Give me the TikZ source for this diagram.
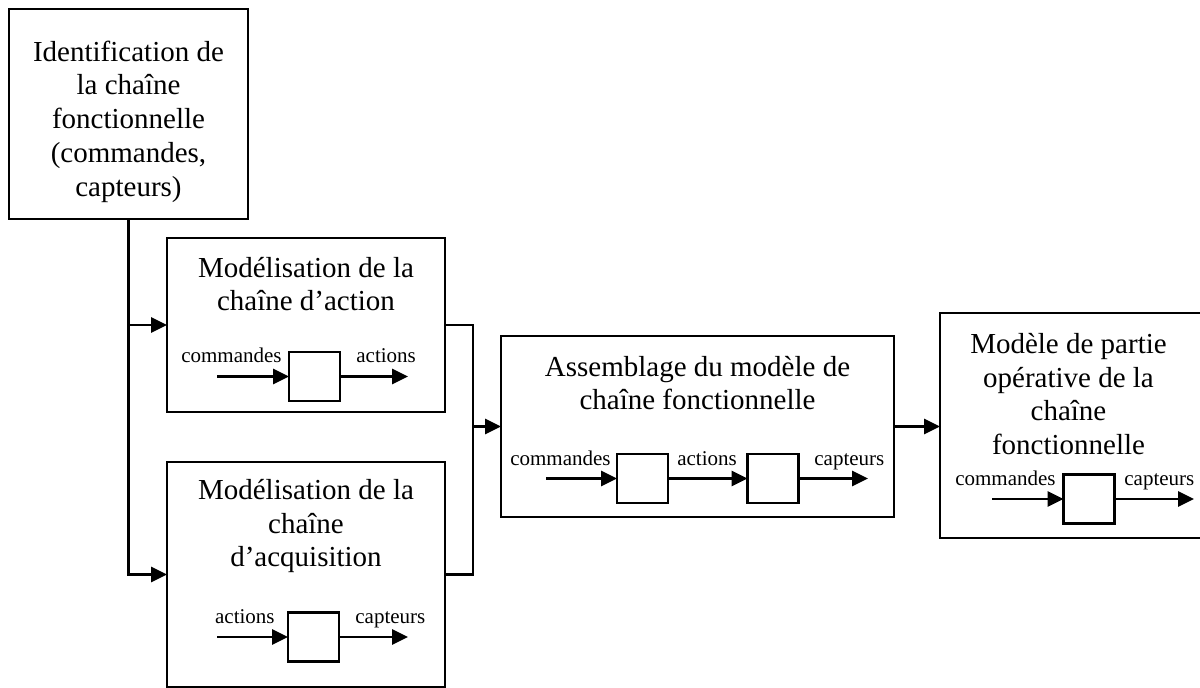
\documentclass[tikz,border=0pt]{standalone}
\usepackage{fontspec}
\setmainfont{Liberation Serif}
\usetikzlibrary{arrows.meta}
\begin{document}
\begin{tikzpicture}[x=1pt,y=-1pt,
  line width=2.8pt,
  box/.style={draw, rectangle, inner sep=0pt, outer sep=0pt},
  blk/.style={draw, rectangle, inner sep=0pt, outer sep=0pt, minimum width=51pt, minimum height=49pt},
  title/.style={align=center, inner sep=0pt, font=\fontsize{29}{33.5}\selectfont},
  lbl/.style={inner sep=0pt, font=\fontsize{21}{24}\selectfont},
  conn/.style={-{Triangle[length=16pt,width=15pt]}}
]
\useasboundingbox (0,0) rectangle (1200,688);

% main boxes
\node[box, minimum width=239pt, minimum height=210pt] (b1) at (128.5,114) {};
\node[box, minimum width=278pt, minimum height=174pt] (b2) at (306,325) {};
\node[box, minimum width=278pt, minimum height=225pt] (b3) at (306,574.5) {};
\node[box, minimum width=393pt, minimum height=181pt] (b4) at (697.5,426.5) {};
\node[box, minimum width=261pt, minimum height=225pt] (b5) at (1070.5,425.5) {};

% titles
\node[title, font=\fontsize{29}{33.8}\selectfont] (t1) at (128.5,121.5) {Identification de\\la chaîne\\fonctionnelle\\(commandes,\\capteurs)};
\node[title] (t2) at (306,284) {Modélisation de la\\chaîne d’action};
\node[title] (t3) at (306,526.3) {Modélisation de la\\chaîne\\d’acquisition};
\node[title] (t4) at (697.5,383.3) {Assemblage du modèle de\\chaîne fonctionnelle};
\node[title] (t5) at (1068.5,394.3) {Modèle de partie\\opérative de la\\chaîne\\fonctionnelle};

% inner blocks
\node[blk] (i2) at (314.5,376.5) {};
\node[blk] (i3) at (313.5,637) {};
\node[blk] (i4a) at (642.5,478.5) {};
\node[blk] (i4b) at (773,478.5) {};
\node[blk] (i5) at (1089,499) {};

% free ends of inner arrows
\coordinate (s2) at (217,376.5);
\coordinate (e2) at (408,376.5);
\coordinate (s3) at (217,637);
\coordinate (e3) at (408,637);
\coordinate (s4) at (546,478.5);
\coordinate (e4) at (868,478.5);
\coordinate (s5) at (992,499);
\coordinate (e5) at (1194,499);

\draw[conn] (s2) -- (i2.west);
\draw[conn] (i2.east) -- (e2);
\draw[conn] (s3) -- (i3.west);
\draw[conn] (i3.east) -- (e3);
\draw[conn] (s4) -- (i4a.west);
\draw[conn] (i4a.east) -- (i4b.west);
\draw[conn] (i4b.east) -- (e4);
\draw[conn] (s5) -- (i5.west);
\draw[conn] (i5.east) -- (e5);

% labels
\node[lbl, anchor=base east] (l2a) at (283,362) {commandes};
\node[lbl, anchor=base west] (l2b) at (355,362) {actions};
\node[lbl, anchor=base east] (l3a) at (276,623) {actions};
\node[lbl, anchor=base west] (l3b) at (354,623) {capteurs};
\node[lbl, anchor=base east] (l4a) at (612,465) {commandes};
\node[lbl, anchor=base] (l4b) at (707,465) {actions};
\node[lbl, anchor=base west] (l4c) at (813,465) {capteurs};
\node[lbl, anchor=base east] (l5a) at (1057,485) {commandes};
\node[lbl, anchor=base west] (l5b) at (1123,485) {capteurs};

% connectors between main boxes
\coordinate (j) at (473,426.5);
\draw[conn] (b1.south) |- (b2.west);
\draw[conn] (b1.south) |- (b3.west);
\draw (b2.east) -| (j) |- (b3.east);
\draw[conn] (j) -- (b4.west);
\draw[conn] (b4.east) -- (b4.east -| b5.west);
\end{tikzpicture}
\end{document}
